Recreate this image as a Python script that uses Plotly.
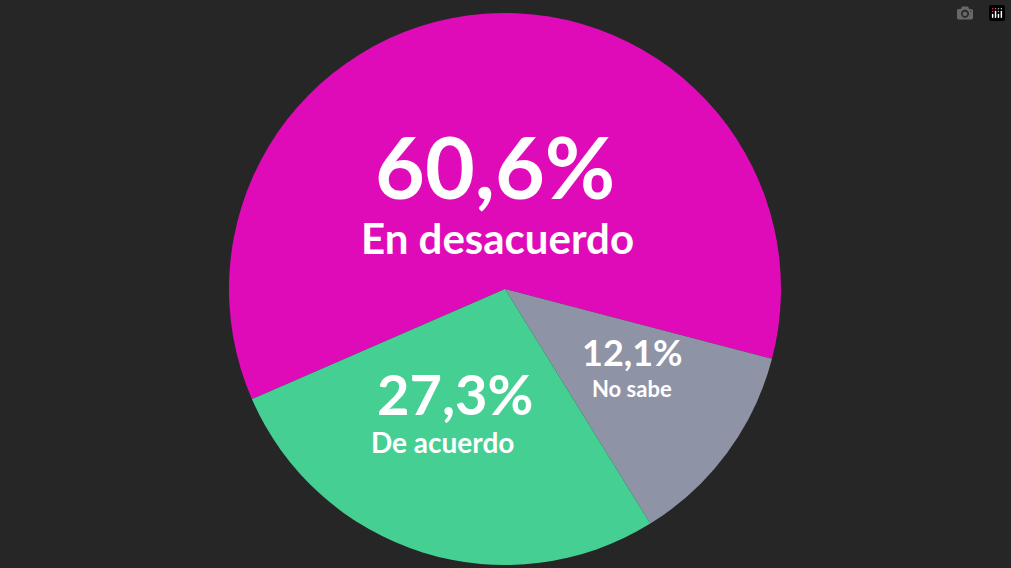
import plotly.graph_objects as go

labels = ["En desacuerdo", "No sabe", "De acuerdo"]
values = [60.6, 12.1, 27.3]
colors = ["#E00BB8", "#8E93A6", "#46CF93"]

W, H = 1011, 568
fig = go.Figure(go.Pie(
    labels=labels, values=values, sort=False, direction="clockwise",
    rotation=246.5, marker=dict(colors=colors, line=dict(width=0)),
    textinfo="none", hoverinfo="label+percent", showlegend=False,
    domain=dict(x=[225/W, 785/W], y=[3/H, 1-13/H]),
))

def ann(x, y, text, size):
    fig.add_annotation(x=x/W, y=1-y/H, xref="paper", yref="paper", text=f"<b>{text}</b>",
                       showarrow=False, font=dict(family="Lato", size=size, color="white"),
                       xanchor="center", yanchor="middle")

ann(495, 165, "60,6%", 86)
ann(497, 238, "En desacuerdo", 42)
ann(455, 393, "27,3%", 56)
ann(442, 442, "De acuerdo", 28)
ann(632, 352, "12,1%", 36)
ann(632, 388, "No sabe", 22)

fig.update_layout(width=W, height=H, margin=dict(l=0, r=0, t=0, b=0),
                  paper_bgcolor="#262626", plot_bgcolor="#262626")
fig.write_html("out.html",
               post_script="document.body.style.margin='0';document.body.style.background='#262626';")
